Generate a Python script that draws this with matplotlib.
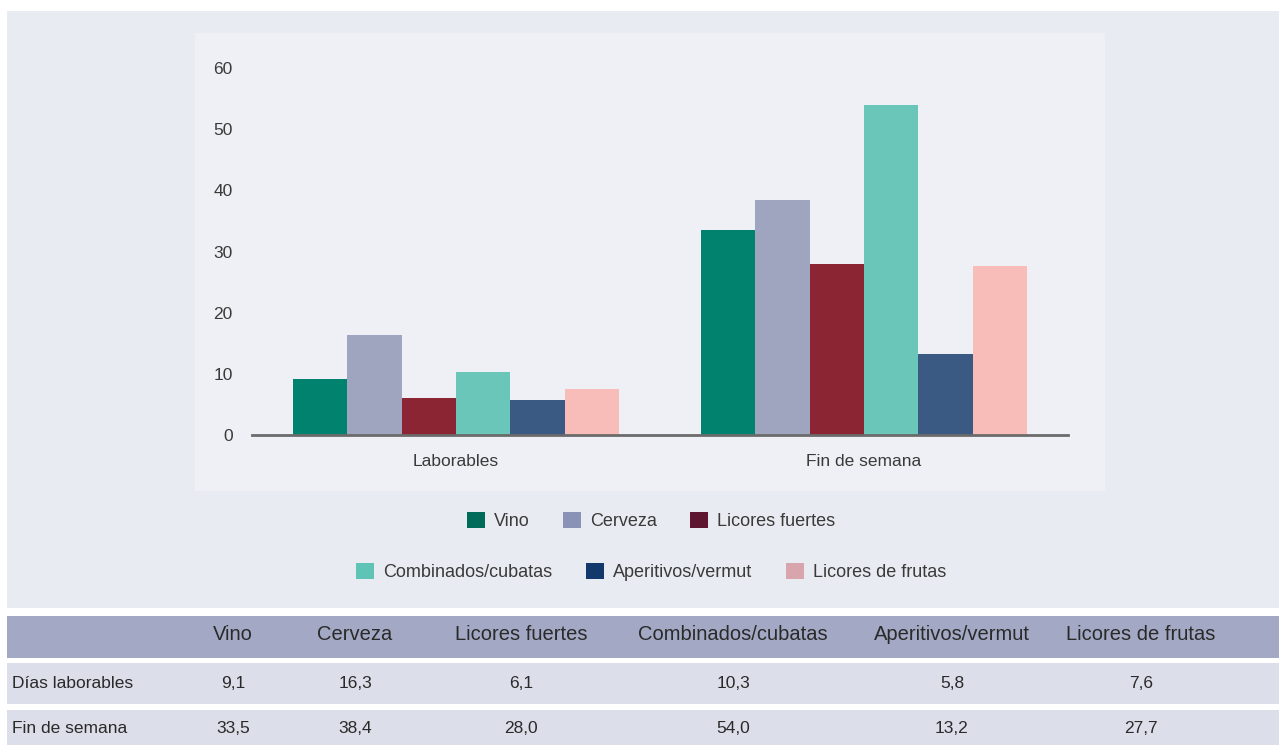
import matplotlib.pyplot as plt
from matplotlib.patches import Rectangle, Patch

plt.rcParams['font.family'] = ['Liberation Sans', 'DejaVu Sans']

# Datos
grupos = ['Laborables', 'Fin de semana']
bebidas = ['Vino', 'Cerveza', 'Licores fuertes', 'Combinados/cubatas',
           'Aperitivos/vermut', 'Licores de frutas']
laborables = [9.1, 16.3, 6.1, 10.3, 5.8, 7.6]
fin_semana = [33.5, 38.4, 28.0, 54.0, 13.2, 27.7]
filas_tabla = ['Días laborables', 'Fin de semana']
yticks = [0, 10, 20, 30, 40, 50, 60]

colores_barra = ['#00826f', '#a0a5bf', '#8c2533', '#69c6b8', '#3a5a84', '#f8bdb8']
colores_leyenda = ['#006b58', '#8a93b5', '#5e1530', '#5fc4b5', '#13386b', '#d9a5ac']
texto = '#3a3a3a'

fig = plt.figure(figsize=(12.79, 7.45), dpi=100)
fig.patch.set_facecolor('white')

# Fondos
fig.add_artist(Rectangle((0.0055, 0.1839), 0.9945, 0.8013, transform=fig.transFigure,
                         facecolor='#e9ebf2', edgecolor='none', zorder=0))
fig.add_artist(Rectangle((0.1525, 0.3409), 0.7115, 0.6148, transform=fig.transFigure,
                         facecolor='#eff0f5', edgecolor='none', zorder=0))

ax = fig.add_axes([0.197, 0.4161, 0.638, 0.4926])
ax.set_facecolor('none')

ancho = 0.8 / len(bebidas)
for i, b in enumerate(bebidas):
    xs = [g + (i - 2.5) * ancho for g in range(len(grupos))]
    ax.bar(xs, [laborables[i], fin_semana[i]], width=ancho, color=colores_barra[i], zorder=2)

ax.set_xlim(-0.5, 1.5)
ax.set_ylim(0, 60)
ax.set_yticks(yticks)
ax.set_xticks(range(len(grupos)))
ax.set_xticklabels(grupos)
ax.tick_params(axis='both', length=0, labelsize=12.5, colors=texto)
ax.tick_params(axis='y', pad=14)
ax.tick_params(axis='x', pad=14)
for s in ['top', 'right', 'left']:
    ax.spines[s].set_visible(False)
ax.spines['bottom'].set_color('#6b6b6b')
ax.spines['bottom'].set_linewidth(2)
ax.spines['bottom'].set_zorder(3)

# Leyenda en dos filas
handles = [Patch(facecolor=c, edgecolor='none', label=b) for c, b in zip(colores_leyenda, bebidas)]
for fila, y in [(handles[:3], 0.3007), (handles[3:], 0.2322)]:
    leg = fig.legend(handles=fila, loc='center', bbox_to_anchor=(0.509, y), ncol=3,
                     frameon=False, fontsize=13, handlelength=1.0, handleheight=1.0,
                     handletextpad=0.5, columnspacing=1.85)
    for t in leg.get_texts():
        t.set_color(texto)

# Tabla
fig.add_artist(Rectangle((0.0055, 0.1168), 0.9945, 0.0564, transform=fig.transFigure,
                         facecolor='#a3a9c4', edgecolor='none'))
fig.add_artist(Rectangle((0.0055, 0.055), 0.9945, 0.055, transform=fig.transFigure,
                         facecolor='#dcdee9', edgecolor='none'))
fig.add_artist(Rectangle((0.0055, 0.0), 0.9945, 0.047, transform=fig.transFigure,
                         facecolor='#dcdee9', edgecolor='none'))

col_x = [233, 355, 521, 733, 952, 1141]
for cx, b in zip(col_x, bebidas):
    fig.text(cx / 1279, 0.1477, b, ha='center', va='center', fontsize=14.5, color='#2a2a2a')

for fila, valores, y in [(filas_tabla[0], laborables, 0.0832), (filas_tabla[1], fin_semana, 0.0215)]:
    fig.text(12 / 1279, y, fila, ha='left', va='center', fontsize=12.5, color='#2a2a2a')
    for cx, v in zip(col_x, valores):
        fig.text(cx / 1279, y, f'{v:.1f}'.replace('.', ','), ha='center', va='center',
                 fontsize=12.5, color='#2a2a2a')

fig.savefig('out.png', dpi=100)
